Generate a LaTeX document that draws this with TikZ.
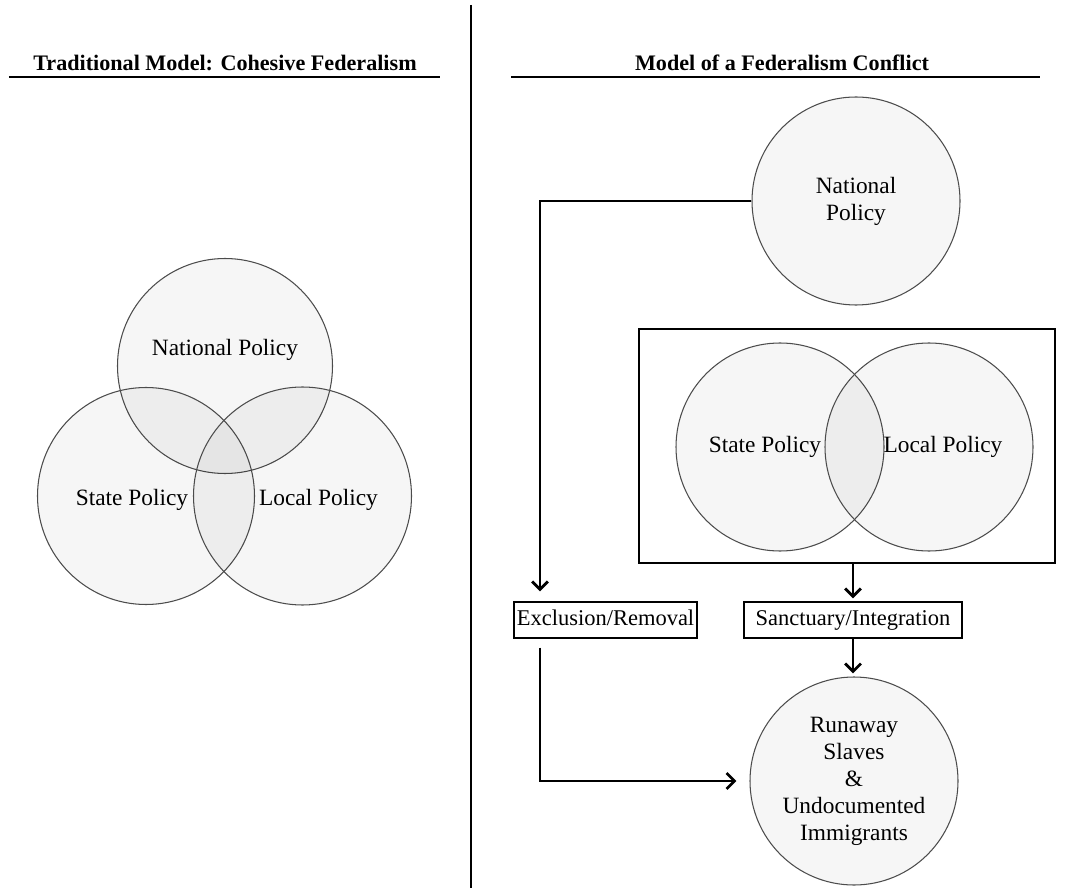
\documentclass[tikz,border=0pt]{standalone}
\usepackage{fontspec}
\setmainfont{Liberation Serif}
\usetikzlibrary{arrows.meta}

\tikzset{
  policy/.style={circle, draw=black!70, line width=0.6pt, fill=black, fill opacity=0.035, text opacity=1, inner sep=0pt},
  bodytext/.style={font=\fontsize{13.3}{15.4}\selectfont, align=center},
  labelbox/.style={draw, line width=0.7pt, inner sep=0pt, minimum height=0.72cm, text height=1.45ex, text depth=0pt, font=\fontsize{12.8}{15.4}\selectfont},
  flow/.style={line width=1.6pt, -{Straight Barb[length=4.5pt,width=9pt]}},
  headline/.style={font=\fontsize{12.6}{14}\selectfont\bfseries}
}

\begin{document}
\begin{tikzpicture}
    \useasboundingbox (0,0) rectangle (21.36,-17.76);

        % titles and divider
        \node[headline] (titleL) at (4.5,-1.26) {Traditional Model: Cohesive Federalism};
        \node[headline] (titleR) at (15.64,-1.26) {Model of a Federalism Conflict};
        \draw[line width=1.6pt] (0.18,-1.54) -- (8.8,-1.54);
        \draw[line width=1.6pt] (10.22,-1.54) -- (20.8,-1.54);
        \draw[line width=1.2pt] (9.42,-0.1) -- (9.42,-17.76);

        % left: three overlapping circles
        \node[policy, minimum size=4.3cm] (natL) at (4.5,-7.32) {};
        \node[policy, minimum size=4.34cm] (stateL) at (2.92,-9.92) {};
        \node[policy, minimum size=4.36cm] (localL) at (6.05,-9.92) {};
        \node[bodytext, yshift=0.32cm] (natLtxt) at (natL) {National Policy};
        \node[bodytext, xshift=-0.28cm, yshift=-0.08cm] (stateLtxt) at (stateL) {State Policy};
        \node[bodytext, xshift=0.32cm, yshift=-0.08cm] (localLtxt) at (localL) {Local Policy};

        % right: conflict model
        \node[policy, minimum size=4.16cm, bodytext] (natR) at (17.12,-4.02) {National\\Policy};
        \node[draw, line width=0.7pt, minimum width=8.32cm, minimum height=4.68cm] (pair) at (16.94,-8.92) {};
        \node[policy, minimum size=4.16cm] (stateR) at (15.6,-8.94) {};
        \node[policy, minimum size=4.16cm] (localR) at (18.58,-8.94) {};
        \node[bodytext, xshift=-0.3cm] (stateRtxt) at (stateR) {State Policy};
        \node[bodytext, xshift=0.28cm] (localRtxt) at (localR) {Local Policy};

        \node[labelbox, minimum width=3.66cm] (excl) at (12.11,-12.4) {Exclusion/Removal};
        \node[labelbox, minimum width=4.36cm] (sanct) at (17.06,-12.4) {Sanctuary/Integration};
        \node[policy, minimum size=4.16cm, bodytext] (runaway) at (17.08,-15.62) {Runaway\\Slaves\\\&\\Undocumented\\Immigrants};

        \coordinate (lane) at (10.8,0);

        \draw[flow, shorten >=0.2cm] (natR.west) -| (lane |- excl.north);
        \draw[flow, shorten <=0.18cm, shorten >=0.26cm] (lane |- excl.south) |- (runaway.west);
        \draw[flow, shorten >=0.06cm] (pair.south -| sanct.north) -- (sanct.north);
        \draw[flow, shorten >=0.06cm] (sanct.south) -- (sanct.south |- runaway.north);

    \end{tikzpicture}
\end{document}
